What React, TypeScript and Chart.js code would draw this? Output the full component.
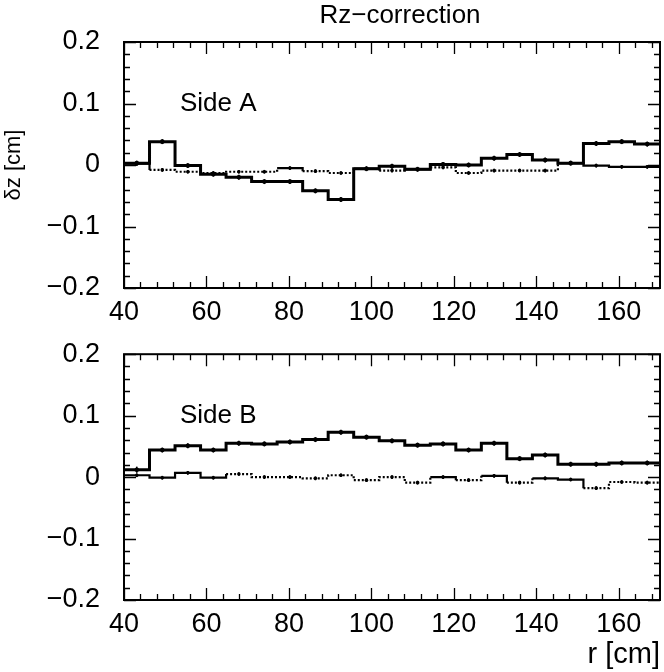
import React, { useEffect, useRef } from "react";
import { Chart, registerables } from "chart.js";

Chart.register(...registerables);

// ---------- data ----------
const binEdges = [
  40, 46.19, 52.38, 58.57, 64.76, 70.95, 77.14, 83.33, 89.52, 95.71, 101.9,
  108.1, 114.29, 120.48, 126.67, 132.86, 139.05, 145.24, 151.43, 157.62, 163.81, 170,
];

const xTickValues = [40, 60, 80, 100, 120, 140, 160];
const yTickValues = [-0.2, -0.1, 0, 0.1, 0.2];

// Side A
const sideASolid = [
  0.003, 0.038, -0.001, -0.015, -0.02, -0.027, -0.027, -0.042, -0.056, -0.006, -0.002,
  -0.007, 0.001, 0.0, 0.011, 0.017, 0.008, 0.003, 0.035, 0.038, 0.034,
];
const sideASolidErr = [
  0.004, 0.004, 0.004, 0.004, 0.004, 0.004, 0.004, 0.004, 0.004, 0.004, 0.004,
  0.004, 0.004, 0.004, 0.004, 0.004, 0.004, 0.004, 0.004, 0.004, 0.004,
];
const sideADotted = [
  0.002, -0.008, -0.011, -0.013, -0.011, -0.011, -0.005, -0.01, -0.013, -0.006, -0.009,
  -0.007, -0.004, -0.013, -0.009, -0.009, -0.009, 0.003, -0.001, -0.003, -0.003,
];
const sideADottedSolidBins = [1, 0, 0, 0, 0, 0, 1, 0, 0, 1, 0, 1, 0, 0, 0, 0, 0, 1, 1, 1, 1];

// Side B
const sideBSolid = [
  0.012, 0.044, 0.051, 0.044, 0.055, 0.054, 0.057, 0.061, 0.073, 0.065, 0.059,
  0.052, 0.054, 0.044, 0.055, 0.03, 0.036, 0.021, 0.021, 0.023, 0.023,
];
const sideBSolidErr = [
  0.005, 0.004, 0.004, 0.004, 0.004, 0.004, 0.004, 0.004, 0.004, 0.004, 0.004,
  0.004, 0.004, 0.004, 0.004, 0.004, 0.004, 0.004, 0.004, 0.004, 0.004,
];
const sideBDotted = [
  0.003, -0.001, 0.007, -0.001, 0.005, 0.0, 0.0, -0.002, 0.003, -0.005, 0.0,
  -0.009, 0.0, -0.005, 0.002, -0.009, -0.002, -0.004, -0.018, -0.008, -0.009,
];
const sideBDottedSolidBins = [1, 1, 1, 1, 0, 0, 0, 0, 0, 0, 0, 0, 1, 0, 1, 0, 1, 1, 0, 0, 0];

const chartTitle = "Rz\u2212correction";

// ---------- helpers ----------
const FONT = "'Liberation Sans', Arial, Helvetica, sans-serif";

function histPoints(values: number[]) {
  const pts = values.map((v, i) => ({ x: binEdges[i], y: v }));
  pts.push({ x: binEdges[values.length], y: values[values.length - 1] });
  return pts;
}
function centerPoints(values: number[]) {
  return values.map((v, i) => ({ x: (binEdges[i] + binEdges[i + 1]) / 2, y: v }));
}
function fmtY(v: number) {
  if (Math.abs(v) < 1e-9) return "0";
  const s = Math.abs(v).toFixed(1);
  return v < 0 ? "\u2212" + s : s;
}

const errorBarPlugin = {
  id: "errorBars",
  afterDatasetsDraw(chart: any) {
    const { ctx } = chart;
    const ys = chart.scales.y;
    chart.data.datasets.forEach((ds: any, di: number) => {
      if (!ds.errors) return;
      const meta = chart.getDatasetMeta(di);
      ctx.save();
      ctx.strokeStyle = "#000";
      ctx.lineWidth = 1.6;
      meta.data.forEach((el: any, i: number) => {
        const v = ds.data[i].y;
        const e = ds.errors[i];
        ctx.beginPath();
        ctx.moveTo(el.x, ys.getPixelForValue(v - e));
        ctx.lineTo(el.x, ys.getPixelForValue(v + e));
        ctx.stroke();
      });
      ctx.restore();
    });
  },
};

const framePlugin = {
  id: "frameTicks",
  afterDraw(chart: any, _args: any, opts: any) {
    const { ctx, chartArea } = chart;
    const { left, right, top, bottom } = chartArea;
    const xs = chart.scales.x;
    const ys = chart.scales.y;
    ctx.save();
    ctx.strokeStyle = "#000";
    ctx.lineWidth = 2;
    ctx.strokeRect(left, top, right - left, bottom - top);
    ctx.lineWidth = 1.3;
    for (let k = 0; ; k++) {
      const v = xs.min + 4 * k;
      if (v > xs.max + 1e-9) break;
      const px = Math.round(xs.getPixelForValue(v)) + 0.5;
      const len = k % 5 === 0 ? 12 : 6;
      ctx.beginPath();
      ctx.moveTo(px, bottom);
      ctx.lineTo(px, bottom - len);
      ctx.moveTo(px, top);
      ctx.lineTo(px, top + len);
      ctx.stroke();
    }
    for (let k = 0; k <= 20; k++) {
      const v = ys.min + 0.02 * k;
      const py = Math.round(ys.getPixelForValue(v)) + 0.5;
      const len = k % 5 === 0 ? 12 : 6;
      ctx.beginPath();
      ctx.moveTo(left, py);
      ctx.lineTo(left + len, py);
      ctx.moveTo(right, py);
      ctx.lineTo(right - len, py);
      ctx.stroke();
    }
    ctx.fillStyle = "#000";
    if (opts && opts.text) {
      ctx.font = `26px ${FONT}`;
      ctx.textAlign = "left";
      ctx.textBaseline = "middle";
      ctx.fillText(opts.text, left + 56, top + 62);
    }
    if (opts && opts.title) {
      ctx.font = `26px ${FONT}`;
      ctx.textAlign = "center";
      ctx.textBaseline = "middle";
      ctx.fillText(opts.title, (left + right) / 2 + 8, top - 26);
    }
    ctx.restore();
  },
};

function makeChart(
  canvas: HTMLCanvasElement,
  solid: number[],
  solidErr: number[],
  dotted: number[],
  dottedSolid: number[],
  side: string,
  isTop: boolean
) {
  const dottedErr = dotted.map(() => 0.003);
  return new Chart(canvas, {
    type: "line",
    data: {
      datasets: [
        {
          type: "scatter",
          data: centerPoints(solid),
          pointRadius: 2.3,
          pointBackgroundColor: "#000",
          pointBorderColor: "#000",
          pointBorderWidth: 0,
          showLine: false,
          errors: solidErr,
        } as any,
        {
          type: "scatter",
          data: centerPoints(dotted),
          pointRadius: 1.8,
          pointBackgroundColor: "#000",
          pointBorderColor: "#000",
          pointBorderWidth: 0,
          showLine: false,
          errors: dottedErr,
        } as any,
        {
          type: "line",
          data: histPoints(solid),
          stepped: "before",
          borderColor: "#000",
          borderWidth: 3,
          pointRadius: 0,
          fill: false,
        } as any,
        {
          type: "line",
          data: histPoints(dotted),
          stepped: "before",
          borderColor: "#000",
          borderWidth: 2.2,
          pointRadius: 0,
          fill: false,
          segment: {
            borderDash: (c: any) => (dottedSolid[c.p0DataIndex] ? [] : [2, 2]),
          },
        } as any,
      ],
    },
    options: {
      animation: false,
      responsive: false,
      devicePixelRatio: 1,
      layout: { padding: { left: 0, right: 3, top: isTop ? 42 : 0, bottom: 0 } },
      plugins: {
        legend: { display: false },
        tooltip: { enabled: false },
        title: { display: false },
        frameTicks: { text: side, title: isTop ? chartTitle : "" },
      } as any,
      scales: {
        x: {
          type: "linear",
          min: 40,
          max: 170,
          afterBuildTicks: (s: any) => {
            s.ticks = xTickValues.map((v) => ({ value: v }));
          },
          afterFit: (s: any) => {
            s.height = isTop ? 48 : 72;
          },
          grid: { display: false, drawTicks: false },
          border: { display: false },
          ticks: {
            color: "#000",
            padding: 8,
            maxRotation: 0,
            autoSkip: false,
            font: { family: FONT, size: 27 },
          },
          title: {
            display: !isTop,
            text: "r [cm]",
            align: "end",
            color: "#000",
            font: { family: FONT, size: 29 },
            padding: { top: 0, bottom: 0 },
          },
        },
        y: {
          type: "linear",
          min: -0.2,
          max: 0.2,
          afterBuildTicks: (s: any) => {
            s.ticks = yTickValues.map((v) => ({ value: v }));
          },
          afterFit: (s: any) => {
            s.width = 124;
          },
          grid: { display: false, drawTicks: false },
          border: { display: false },
          ticks: {
            color: "#000",
            padding: 24,
            autoSkip: false,
            font: { family: FONT, size: 27 },
            callback: (v: any) => fmtY(Number(v)),
          },
          title: {
            display: isTop,
            text: "\u03b4z [cm]",
            color: "#000",
            font: { family: FONT, size: 22 },
            padding: { top: 1, bottom: 0 },
          },
        },
      },
    } as any,
    plugins: [errorBarPlugin, framePlugin],
  });
}

export default function App() {
  const topRef = useRef<HTMLCanvasElement | null>(null);
  const botRef = useRef<HTMLCanvasElement | null>(null);

  useEffect(() => {
    const c1 = makeChart(
      topRef.current!,
      sideASolid,
      sideASolidErr,
      sideADotted,
      sideADottedSolidBins,
      "Side A",
      true
    );
    const c2 = makeChart(
      botRef.current!,
      sideBSolid,
      sideBSolidErr,
      sideBDotted,
      sideBDottedSolidBins,
      "Side B",
      false
    );
    return () => {
      c1.destroy();
      c2.destroy();
    };
  }, []);

  return (
    <div
      style={{
        position: "absolute",
        left: 0,
        top: 0,
        width: 664,
        height: 672,
        background: "#fff",
        overflow: "hidden",
      }}
    >
      <canvas
        ref={topRef}
        width={664}
        height={336}
        style={{ position: "absolute", left: 0, top: 0, width: 664, height: 336 }}
      />
      <canvas
        ref={botRef}
        width={664}
        height={358}
        style={{ position: "absolute", left: 0, top: 314, width: 664, height: 358 }}
      />
    </div>
  );
}
